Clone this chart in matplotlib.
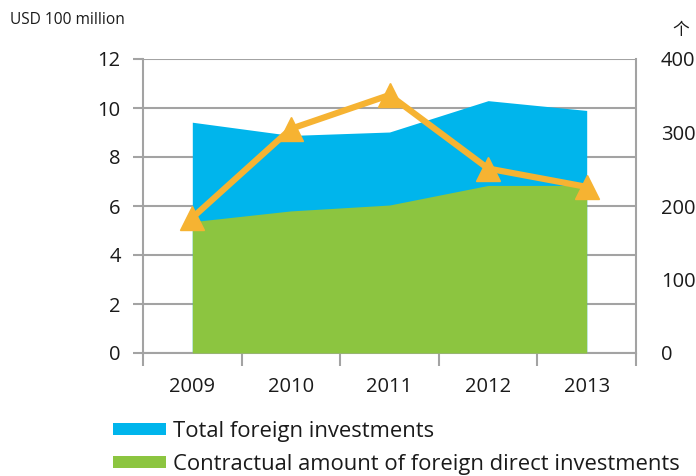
import matplotlib
matplotlib.use("Agg")
import matplotlib.pyplot as plt
from matplotlib.patches import Patch
import numpy as np

years = ["2009", "2010", "2011", "2012", "2013"]
total_foreign = [9.42, 8.88, 9.02, 10.3, 9.9]
contractual_fdi = [5.36, 5.8, 6.04, 6.84, 6.84]
projects = [184, 305, 351, 251, 226]
left_ticks = [0, 2, 4, 6, 8, 10, 12]
right_ticks = [0, 100, 200, 300, 400]

base_font = "Open Sans"
plt.rcParams['font.family'] = [base_font, 'Noto Sans CJK SC', 'DejaVu Sans']

BLUE = "#00B5EC"
GREEN = "#8CC540"
ORANGE = "#F6B332"
GRID = "#A3A3A3"
TXT = "#1a1a1a"

fig = plt.figure(figsize=(6.96, 4.76), dpi=100)
ax = fig.add_axes([143/696, 1-353/476, (636-143)/696, (353-59)/476])
x = np.arange(len(years))

ax.fill_between(x, 0, total_foreign, color=BLUE, lw=0, zorder=2)
ax.fill_between(x, 0, contractual_fdi, color=GREEN, lw=0, zorder=3)

ax.set_xlim(-0.5, len(years)-0.5)
ax.set_ylim(0, 12)
ax.set_yticks(left_ticks)
ax.yaxis.grid(True, color=GRID, lw=1.5, zorder=1)
ax.set_axisbelow(True)
for s in ["left", "right", "bottom"]:
    ax.spines[s].set_color(GRID)
    ax.spines[s].set_linewidth(1.5)
ax.spines["top"].set_visible(False)
ax.tick_params(axis='y', direction='out', length=7, width=1.5, color=GRID,
               labelsize=14.5, labelcolor=TXT, pad=9)
ax.set_xticks(np.arange(-0.5, len(years), 1.0))
ax.set_xticklabels([])
ax.set_xticks(x, minor=True)
ax.set_xticklabels(years, minor=True)
ax.tick_params(axis='x', which='major', direction='out', length=9, width=1.5, color=GRID)
ax.tick_params(axis='x', which='minor', length=0, labelsize=14.5, labelcolor=TXT, pad=17)

ax2 = ax.twinx()
ax2.set_ylim(0, 400)
ax2.set_yticks(right_ticks)
ax2.plot(x, projects, color=ORANGE, lw=4.5, marker='^', markersize=17, zorder=5,
         solid_joinstyle='miter')
for s in ax2.spines.values():
    s.set_visible(False)
ax2.tick_params(axis='y', length=0, labelsize=14.5, labelcolor=TXT, pad=18)
ax2.set_zorder(ax.get_zorder()+1)
ax2.patch.set_visible(False)

fig.text(10/696, 1-20/476, "USD 100 million", fontsize=11.2, color=TXT,
         va='center', ha='left')
fig.text(681/696, 1-31/476, "个", fontsize=12, color=TXT, va='center', ha='center',
         family=['Noto Sans CJK SC', 'DejaVu Sans'])

handles = [Patch(facecolor=BLUE, edgecolor='none'), Patch(facecolor=GREEN, edgecolor='none')]
labels = ["Total foreign investments", "Contractual amount of foreign direct investments"]
lsize = 15.8
fs = lsize * 100 / 72
leg = fig.legend(handles, labels, loc='upper left', bbox_to_anchor=(113/696, 1-421/476),
                 frameon=False, prop=dict(family=base_font, size=lsize),
                 handlelength=53/fs, handleheight=10/fs,
                 handletextpad=7/fs, labelspacing=0.55, borderpad=0, borderaxespad=0)
for t in leg.get_texts():
    t.set_color(TXT)

fig.savefig("out.png", dpi=100)
